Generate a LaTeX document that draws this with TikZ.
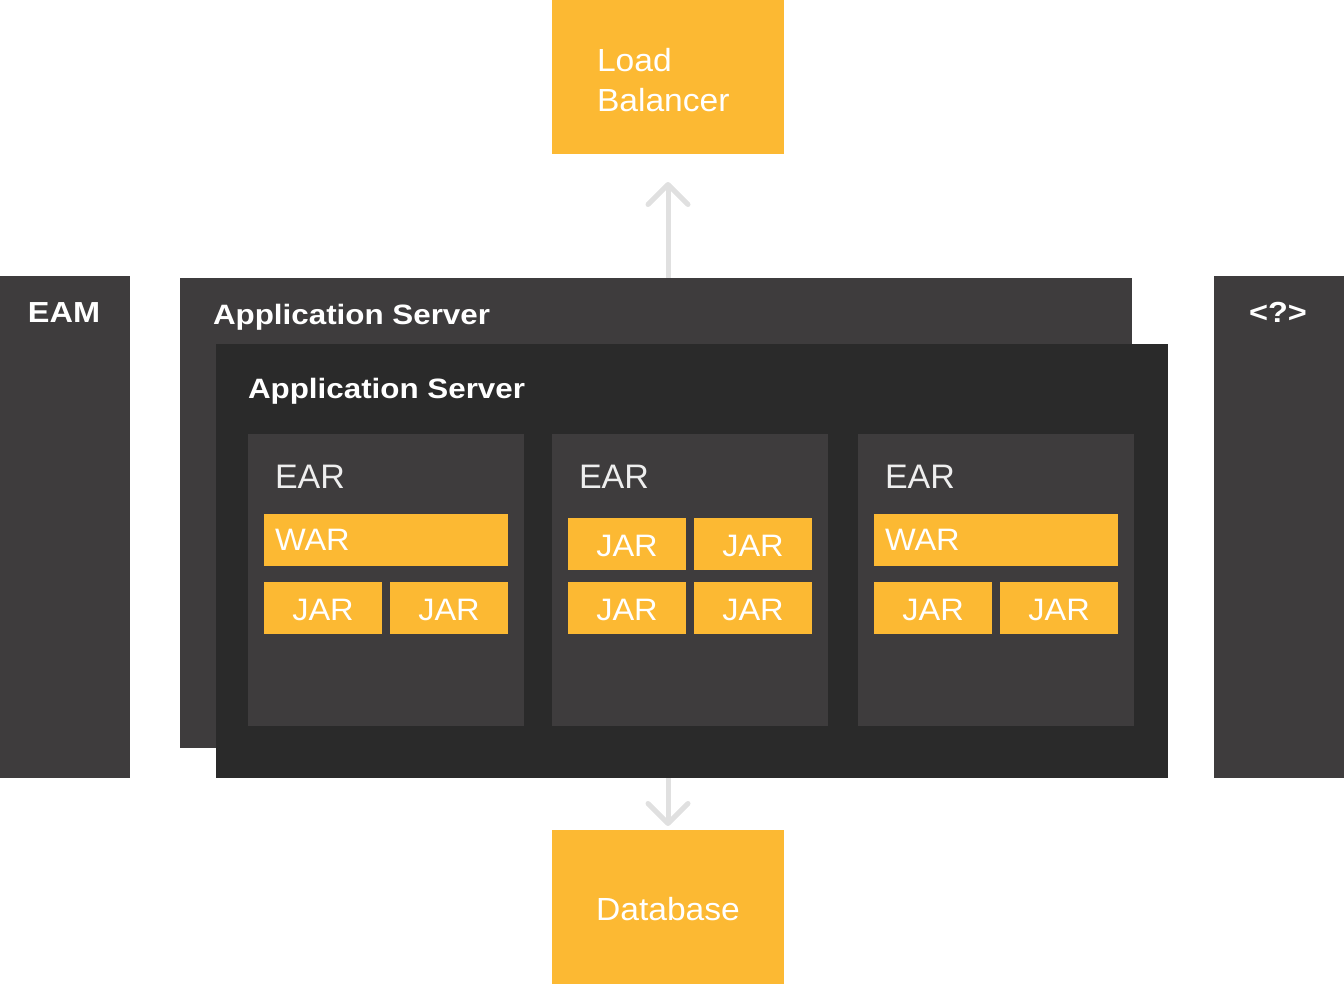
\documentclass[tikz,border=0pt]{standalone}
\usepackage{fontspec}
\setmainfont{Liberation Sans}
\newfontfamily\titlefont{Liberation Sans}[FakeStretch=1.12]
\newfontfamily\bodyfont{Liberation Sans}[FakeStretch=1.05]
\usetikzlibrary{arrows.meta}
\definecolor{ylw}{HTML}{FCB933}
\definecolor{gmid}{HTML}{3E3C3D}
\definecolor{gdark}{HTML}{2A2A2A}
\definecolor{arr}{HTML}{E0E0E0}
\definecolor{eartxt}{HTML}{EEEEEE}
\tikzset{
  lbl/.style={inner sep=0pt,outer sep=0pt,text=white,anchor=base west},
  title/.style={lbl,font=\titlefont\fontsize{28}{34}\selectfont\bfseries},
  boxtitle/.style={title,font=\titlefont\fontsize{29}{34}\selectfont\bfseries,anchor=base},
  eartitle/.style={lbl,text=eartxt,font=\fontsize{34}{40}\selectfont},
  pkg/.style={inner sep=0pt,outer sep=0pt,text=white,font=\bodyfont\fontsize{31}{36}\selectfont},
  conn/.style={draw=arr,line width=5pt,-{Straight Barb[length=20pt,width=40pt,line width=5pt,round]}},
}
\begin{document}
\begin{tikzpicture}[x=1pt,y=-1pt]
\useasboundingbox (0,0) rectangle (1344,984);
% boxes
\fill[ylw] (552,0) rectangle (784,154);
\coordinate (lbs) at (668,154);
\fill[gmid] (0,276) rectangle (130,778);
\fill[gmid] (1214,276) rectangle (1344,778);
\fill[gmid] (180,278) rectangle (1132,748);
\coordinate (asbt) at (668,278);
\fill[gdark] (216,344) rectangle (1168,778);
\coordinate (asfb) at (668,778);
\fill[ylw] (552,830) rectangle (784,984);
\coordinate (dbn) at (668,830);
% EAR containers
\foreach \x in {248,552,858}{\fill[gmid] (\x,434) rectangle ++(276,292);}
% WAR
\fill[ylw] (264,514) rectangle (508,566);
\fill[ylw] (874,514) rectangle (1118,566);
% JAR boxes
\foreach \x/\y in {264/582,390/582,568/518,694/518,568/582,694/582,874/582,1000/582}{
  \fill[ylw] (\x,\y) rectangle ++(118,52);
  \node[pkg,anchor=base] at (\x+59,\y+38) {JAR};
}
% texts
\node[pkg,font=\bodyfont\fontsize{32}{40}\selectfont,anchor=base west] (lb) at (597,72) {Load};
\node[pkg,font=\bodyfont\fontsize{32}{40}\selectfont,anchor=base west] (lb2) at (597,112) {Balancer};
\node[pkg,font=\bodyfont\fontsize{32}{40}\selectfont,anchor=base] (db) at (668,920) {Database};
\node[boxtitle] (eam) at (64,323) {EAM};
\node[boxtitle] (unk) at (1278,323) {<?>};
\node[title] (as1) at (213,325) {Application Server};
\node[title] (as2) at (248,398) {Application Server};
\node[eartitle] (e1) at (275,488) {EAR};
\node[eartitle] (e2) at (579,488) {EAR};
\node[eartitle] (e3) at (885,488) {EAR};
\node[pkg,anchor=base west] (w1) at (275,550) {WAR};
\node[pkg,anchor=base west] (w2) at (885,550) {WAR};
% connectors
\draw[conn,shorten >=28pt] (asbt) -- (lbs);
\draw[conn,shorten >=4pt] (asfb) -- (dbn);
\end{tikzpicture}
\end{document}
